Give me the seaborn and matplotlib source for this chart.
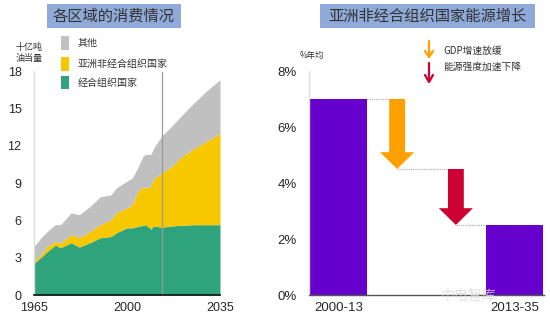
import matplotlib
matplotlib.use("Agg")
import matplotlib.pyplot as plt
from matplotlib.patches import Rectangle, FancyArrow
import seaborn as sns
import pandas as pd

# ---------------- data ----------------
years = [1965, 1968, 1970, 1973, 1975, 1979, 1982, 1986, 1990, 1994, 1996, 2000,
         2002, 2004, 2006, 2007, 2009, 2010, 2013, 2017, 2020, 2025, 2030, 2035]
oecd = [2.55, 3.1, 3.5, 4.0, 3.8, 4.2, 3.85, 4.2, 4.6, 4.7, 5.0, 5.4,
        5.4, 5.5, 5.6, 5.65, 5.3, 5.55, 5.45, 5.55, 5.6, 5.65, 5.65, 5.65]
asia_non_oecd = [0.15, 0.25, 0.4, 0.3, 0.35, 0.65, 0.75, 0.9, 1.05, 1.35, 1.6, 1.6,
                 1.85, 2.8, 3.1, 2.95, 3.45, 3.75, 4.35, 4.8, 5.4, 6.1, 6.7, 7.35]
other = [1.2, 1.35, 1.2, 1.35, 1.5, 1.75, 1.85, 2.0, 2.25, 2.0, 2.0, 2.15,
         2.15, 1.9, 2.45, 2.7, 2.55, 2.5, 2.95, 3.25, 3.3, 3.65, 4.05, 4.3]
legend_labels = ["其他", "亚洲非经合组织国家", "经合组织国家"]
left_yticks = [0, 3, 6, 9, 12, 15, 18]
left_xticks = [1965, 2000, 2035]
split_year = 2013

periods = ["2000-13", "2013-35"]
growth = [7.0, 2.5]
gdp_drop = 2.5
intensity_drop = 2.0
right_yticks = [0, 2, 4, 6, 8]

# ---------------- style ----------------
sns.set_theme(style="white")
plt.rcParams["font.family"] = ["Liberation Sans", "Noto Sans CJK SC", "DejaVu Sans"]
CJK = ["Noto Sans CJK SC", "DejaVu Sans"]

GREEN = "#2fa37c"
YELLOW = "#f7c800"
GRAY = "#c0c0c0"
PURPLE = "#6600cc"
ORANGE = "#ffa000"
RED = "#cc0033"
BOX = "#8faad8"

W, H = 550, 327
fig = plt.figure(figsize=(5.5, 3.27), dpi=100)


def fx(x):
    return x / W


def fy(y):
    return 1 - y / H


ax1 = fig.add_axes([fx(34), fy(295), 186 / W, 224 / H])
ax2 = fig.add_axes([fx(309), fy(295), 235 / W, 224 / H])

# ---------------- left: stacked area ----------------
ax1.stackplot(years, oecd, asia_non_oecd, other,
              colors=[GREEN, YELLOW, GRAY], linewidth=0)
ax1.axvline(split_year, color="#999999", lw=0.9, ymax=0.995)
ax1.set_xlim(1965, 2035)
ax1.set_ylim(0, 18)
ax1.set_xticks(left_xticks)
ax1.set_yticks(left_yticks)
ax1.tick_params(axis="y", length=0, pad=9, labelsize=9)
ax1.tick_params(axis="x", length=0, pad=5, labelsize=9)
for s in ["top", "right"]:
    ax1.spines[s].set_visible(False)
ax1.spines["left"].set_color("#dddddd")
ax1.spines["left"].set_linewidth(1.0)
ax1.spines["bottom"].set_color("#111111")
ax1.spines["bottom"].set_linewidth(1.2)

# ---------------- right: waterfall ----------------
df = pd.DataFrame({"period": periods, "growth": growth})
order = [periods[0], " ", "  ", periods[1]]
sns.barplot(data=df, x="period", y="growth", order=order, color=PURPLE,
            saturation=1, width=0.96, ax=ax2)
for p in ax2.patches:
    p.set_edgecolor("none")

start = growth[0]
mid = start - gdp_drop
end = mid - intensity_drop
ax2.add_patch(FancyArrow(1, start, 0, -gdp_drop, width=0.27, head_width=0.58,
                         head_length=0.6, length_includes_head=True,
                         color=ORANGE, lw=0))
ax2.add_patch(FancyArrow(2, mid, 0, -intensity_drop, width=0.27, head_width=0.58,
                         head_length=0.6, length_includes_head=True,
                         color=RED, lw=0))
dot = dict(color="#aaaaaa", lw=0.8, ls=(0, (1, 1)))
ax2.plot([0.48, 0.865], [start, start], **dot)
ax2.plot([1.0, 1.865], [mid, mid], **dot)
ax2.plot([2.0, 2.48], [end, end], **dot)

ax2.set_xlim(-0.5, 3.5)
ax2.set_ylim(0, 8)
ax2.set_yticks(right_yticks)
ax2.set_yticklabels([f"{v}%" for v in right_yticks])
ax2.set_xticks([0, 3])
ax2.set_xticklabels(periods)
ax2.set_xlabel("")
ax2.set_ylabel("")
ax2.tick_params(axis="y", length=0, pad=9, labelsize=9.5)
ax2.tick_params(axis="x", length=0, pad=5, labelsize=9.5)
for s in ["top", "right"]:
    ax2.spines[s].set_visible(False)
ax2.spines["left"].set_color("#dddddd")
ax2.spines["left"].set_linewidth(1.0)
ax2.spines["bottom"].set_color("#555555")
ax2.spines["bottom"].set_linewidth(1.0)

# ---------------- titles ----------------
fig.add_artist(Rectangle((fx(47), fy(28)), 134 / W, 24 / H,
                         transform=fig.transFigure, facecolor=BOX, edgecolor="none"))
fig.text(fx(114), fy(16), "各区域的消费情况", family=CJK, fontsize=11,
         color="#333333", ha="center", va="center")
fig.add_artist(Rectangle((fx(320), fy(28)), 215 / W, 24 / H,
                         transform=fig.transFigure, facecolor=BOX, edgecolor="none"))
fig.text(fx(427), fy(16), "亚洲非经合组织国家能源增长", family=CJK, fontsize=11,
         color="#333333", ha="center", va="center")

# ---------------- left legend / unit ----------------
for (yc, col, lab) in zip([43, 64, 83], [GRAY, YELLOW, GREEN], legend_labels):
    fig.add_artist(Rectangle((fx(61), fy(yc + 6.5)), 7.5 / W, 13 / H,
                             transform=fig.transFigure, facecolor=col,
                             edgecolor="none"))
    fig.text(fx(78), fy(yc), lab, family=CJK, fontsize=7.2, color="#333333",
             ha="left", va="center")
fig.text(fx(29), fy(53), "十亿吨\n油当量", family=CJK, fontsize=6.5,
         color="#333333", ha="center", va="center", linespacing=1.2)

# ---------------- right legend / unit ----------------
fig.text(fx(300), fy(55), "%年均", family=CJK, fontsize=6, color="#333333",
         ha="left", va="center")
fig.add_artist(plt.Line2D([fx(429), fx(429)], [fy(41), fy(56)],
                          transform=fig.transFigure, color=ORANGE, lw=1.6))
fig.add_artist(plt.Line2D([fx(425), fx(429), fx(433)], [fy(51), fy(57), fy(51)],
                          transform=fig.transFigure, color=ORANGE, lw=1.6))
fig.add_artist(plt.Line2D([fx(429), fx(429)], [fy(63), fy(81)],
                          transform=fig.transFigure, color=RED, lw=1.6))
fig.add_artist(plt.Line2D([fx(425), fx(429), fx(433)], [fy(75), fy(82), fy(75)],
                          transform=fig.transFigure, color=RED, lw=1.6))
fig.text(fx(443), fy(51), "GDP增速放缓", family=CJK, fontsize=7, color="#333333",
         ha="left", va="center")
fig.text(fx(443), fy(67), "能源强度加速下降", family=CJK, fontsize=7,
         color="#333333", ha="left", va="center")

# watermark
fig.text(fx(468), fy(296), "中电智库", family=CJK, fontsize=10, color="#d8d8d8",
         ha="center", va="center", alpha=0.8)

fig.savefig("out.png", dpi=100)
